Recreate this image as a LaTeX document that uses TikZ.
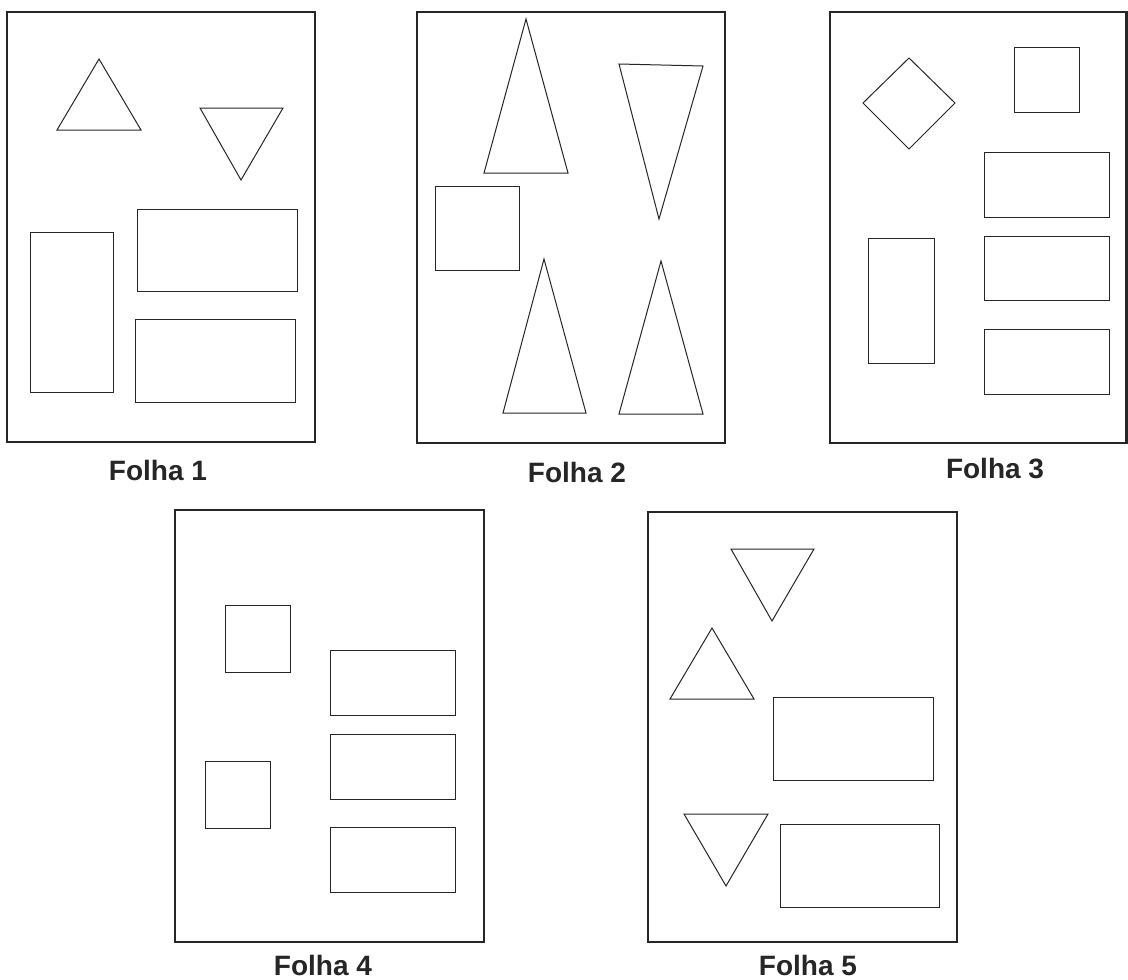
\documentclass[tikz,border=0pt]{standalone}
\usepackage{fontspec}
\setmainfont{Liberation Sans}
\begin{document}
\begin{tikzpicture}[x=1pt,y=-1pt,
  sheet/.style={draw=black!85,line width=2.6pt},
  fig/.style={draw=black!85,line width=1pt,line join=miter},
  lbl/.style={font=\fontsize{28}{33}\selectfont\bfseries,text=black!85,anchor=base,inner sep=0pt}]
\path[use as bounding box,fill=white] (0,0) rectangle (1128,980);
% ---- Folha 1
\draw[sheet] (7,12) rectangle (315,442);
\draw[fig] (99,59) -- (141,130) -- (57,130) -- cycle;
\draw[fig] (200,108) -- (283,108) -- (241,180) -- cycle;
\draw[fig] (30,232) rectangle (113,392);
\draw[fig] (137,209) rectangle (297,291);
\draw[fig] (135,319) rectangle (295,402);
\node[lbl] (f1) at (158,480) {Folha 1};
% ---- Folha 2
\draw[sheet] (417,12) rectangle (725,443);
\draw[fig] (526,19) -- (568,173) -- (484,173) -- cycle;
\draw[fig] (619,64) -- (703,66) -- (659,219) -- cycle;
\draw[fig] (435,186) rectangle (519,270);
\draw[fig] (544,259) -- (586,413) -- (503,413) -- cycle;
\draw[fig] (661,261) -- (703,414) -- (619,414) -- cycle;
\node[lbl] (f2) at (577,482) {Folha 2};
% ---- Folha 3
\draw[sheet] (830,12) rectangle (1126.7,443);
\draw[fig] (909,58) -- (955,103) -- (909,149) -- (863,103) -- cycle;
\draw[fig] (1014,47) rectangle (1079,112);
\draw[fig] (984,152) rectangle (1109,217);
\draw[fig] (984,236) rectangle (1109,300);
\draw[fig] (984,329) rectangle (1109,394);
\draw[fig] (868,238) rectangle (934,363);
\node[lbl] (f3) at (995,478) {Folha 3};
% ---- Folha 4
\draw[sheet] (175,510) rectangle (484,942);
\draw[fig] (225,605) rectangle (290,672);
\draw[fig] (205,761) rectangle (270,828);
\draw[fig] (330,650) rectangle (455,715);
\draw[fig] (330,734) rectangle (455,799);
\draw[fig] (330,827) rectangle (455,892);
\node[lbl] (f4) at (323,975.5) {Folha 4};
% ---- Folha 5
\draw[sheet] (648,512) rectangle (957,942);
\draw[fig] (731,549) -- (814,549) -- (772,621) -- cycle;
\draw[fig] (712,628) -- (754,699) -- (670,699) -- cycle;
\draw[fig] (773,697) rectangle (933,780);
\draw[fig] (684,814) -- (768,814) -- (726,886) -- cycle;
\draw[fig] (780,824) rectangle (939,907);
\node[lbl] (f5) at (808,975.5) {Folha 5};
\end{tikzpicture}
\end{document}
